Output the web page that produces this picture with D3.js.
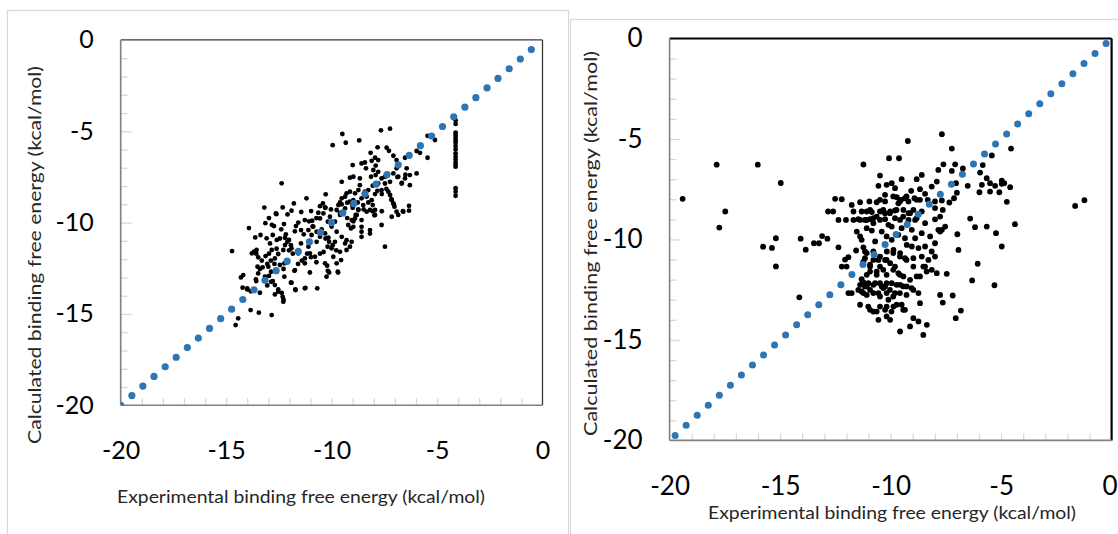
<!DOCTYPE html>
<html>
<head>
<meta charset="utf-8">
<script src="https://cdn.jsdelivr.net/npm/d3@7"></script>
<style>
  body { margin: 0; background: #fff; }
  svg { display: block; }
</style>
</head>
<body>
<svg id="chart" width="1118" height="534"></svg>
<script>
// ---- tick labels and titles ----
const tickValues = [-20, -15, -10, -5, 0];
const tickLabels = ["-20", "-15", "-10", "-5", "0"];
const minorTickValues = [-19, -18, -17, -16, -14, -13, -12, -11, -9, -8, -7, -6, -4, -3, -2, -1];
const xTitle = "Experimental binding free energy (kcal/mol)";
const yTitle = "Calculated binding free energy (kcal/mol)";

// ---- ideal y = x reference points (blue) ----
const leftDiagonal = [-20, -19.47, -18.95, -18.42, -17.89, -17.37, -16.84, -16.32, -15.79, -15.26,
  -14.74, -14.21, -13.68, -13.16, -12.63, -12.11, -11.58, -11.05, -10.53, -10.0,
  -9.47, -8.95, -8.42, -7.89, -7.37, -6.84, -6.32, -5.79, -5.26, -4.74,
  -4.21, -3.68, -3.16, -2.63, -2.11, -1.58, -1.05, -0.53];
const rightDiagonal = [-19.75, -19.25, -18.75, -18.25, -17.75, -17.25, -16.75, -16.25, -15.75, -15.25,
  -14.75, -14.25, -13.75, -13.25, -12.75, -12.25, -11.75, -11.25, -10.75, -10.25,
  -9.75, -9.25, -8.75, -8.25, -7.75, -7.25, -6.75, -6.25, -5.75, -5.25,
  -4.75, -4.25, -3.75, -3.25, -2.75, -2.25, -1.75, -1.25, -0.75, -0.25];

// ---- left panel: [experimental, calculated] ----
const leftPoints = [
  [-12.37,-7.85],[-11.19,-8.67],[-10.28,-8.45],[-13.19,-9.18],[-12.64,-9.49],[-12.97,-9.75],[-12.32,-9.17],[-12.09,-9.55],
  [-11.79,-8.95],[-11.9,-9.35],[-11.44,-9.42],[-10.97,-9.37],[-10.63,-9.46],[-10.41,-8.95],[-10.31,-9.17],
  [-13.92,-10.3],[-13.37,-10.68],[-13.62,-10.81],[-12.73,-10.19],[-12.26,-10.08],[-12.39,-10.37],[-12.17,-10.64],[-12.21,-10.83],
  [-12.02,-10.95],[-11.69,-10.19],[-11.74,-10.48],[-11.45,-10.41],[-11.58,-10.0],[-11.27,-9.86],[-10.92,-9.9],[-10.87,-10.22],
  [-11.1,-10.41],[-11.32,-10.64],[-10.95,-10.68],[-10.71,-10.5],[-10.47,-10.37],[-10.31,-10.59],[-10.15,-10.83],[-10.55,-9.77],
  [-10.18,-9.95],[-10.0,-10.22],[-10.0,-11.41],
  [-14.72,-11.56],[-13.68,-11.59],[-13.56,-11.5],[-13.48,-11.9],[-13.13,-11.83],[-12.92,-11.14],[-12.84,-11.5],[-12.61,-11.43],
  [-12.53,-11.72],[-12.29,-11.5],[-12.21,-11.23],[-12.69,-11.96],[-11.9,-11.41],[-11.58,-11.68],[-11.27,-11.96],[-11.03,-11.68],
  [-10.79,-11.87],[-10.31,-12.23],
  [-13.51,-12.41],[-13.27,-12.45],[-13.0,-12.41],[-12.87,-12.69],[-12.45,-12.32],[-12.24,-12.23],[-11.74,-12.6],[-11.27,-12.23],
  [-13.48,-12.78],[-13.16,-12.96],[-14.19,-12.87],[-14.3,-13.0],[-13.59,-13.11],[-12.87,-13.24],[-12.69,-13.42],[-12.24,-12.96],
  [-11.9,-13.29],[-11.71,-13.69],[-11.27,-13.6],[-10.68,-13.6],[-10.24,-12.96],
  [-14.22,-13.56],[-14.0,-13.6],[-13.4,-13.84],[-12.69,-13.93],[-12.53,-13.78],[-12.29,-14.33],[-12.32,-14.06],[-13.84,-14.79],
  [-13.45,-14.93],[-12.84,-15.06],[-14.43,-15.24],[-14.55,-15.61],
  [-10.71,-11.05],[-11.1,-11.32],[-11.45,-11.14],[-12.6,-10.95],[-13.08,-10.86],[-13.78,-11.68],
  [-10.39,-9.5],[-10.08,-9.68],[-10.19,-11.32],[-9.92,-11.87],[-10.18,-12.64],
  [-9.49,-5.15],[-9.33,-5.63],[-8.69,-5.5],[-7.66,-4.95],[-7.23,-4.86],[-8.15,-6.18],[-7.82,-5.88],[-7.39,-5.9],[-7.28,-6.07],
  [-7.94,-6.45],[-7.79,-6.58],[-7.07,-6.34],[-6.92,-6.58],[-6.52,-6.45],[-5.97,-6.08],[-5.81,-6.18],[-5.45,-6.45],[-5.45,-5.25],
  [-5.1,-5.48],
  [-9.0,-6.85],[-8.58,-6.76],[-8.42,-6.71],[-8.37,-7.03],[-8.02,-7.12],[-8.13,-7.49],[-7.91,-7.4],[-7.79,-7.22],[-7.63,-7.58],
  [-7.47,-7.49],[-7.07,-7.31],[-6.92,-7.03],[-6.84,-7.49],[-6.68,-7.86],[-6.44,-7.03],[-6.29,-7.4],[-6.29,-7.95],[-5.97,-7.31],
  [-6.52,-7.58],[-7.23,-7.77],[-7.47,-7.86],
  [-9.52,-7.77],[-9.13,-7.54],[-8.97,-7.49],[-8.66,-7.58],[-8.66,-7.95],[-8.73,-8.22],[-8.89,-8.4],[-9.13,-8.31],[-9.29,-8.4],
  [-9.36,-8.58],[-9.52,-8.67],[-9.6,-8.9],[-9.52,-9.0],[-9.13,-8.86],[-8.97,-8.77],[-9.02,-9.04],[-8.76,-8.9],[-8.58,-8.67],
  [-8.34,-8.58],[-8.26,-8.9],[-8.1,-8.77],[-8.05,-9.04],[-7.94,-9.31],[-7.94,-9.58],[-8.18,-9.31],[-8.34,-9.4],[-8.5,-9.04],
  [-8.73,-9.31],[-8.86,-9.58],[-8.89,-9.77],[-9.05,-9.86],[-9.21,-10.13],[-9.08,-10.32],[-8.97,-10.23],[-8.81,-9.58],[-8.58,-9.86],
  [-8.58,-10.23],[-8.58,-10.5],[-8.58,-10.78],[-8.18,-10.41],[-8.18,-10.6],[-7.63,-10.13],[-7.47,-11.32],
  [-7.79,-7.86],[-7.63,-8.22],[-7.31,-8.31],[-7.23,-8.49],[-7.15,-8.77],[-7.07,-8.95],[-7.02,-9.13],[-6.92,-9.4],[-7.15,-9.68],
  [-6.84,-9.58],[-6.6,-9.4],[-6.33,-9.08],[-6.33,-9.35],[-7.94,-8.44],[-8.26,-8.22],[-8.42,-8.31],
  [-9.36,-9.22],[-9.68,-9.04],[-9.76,-9.31],[-9.6,-9.58],[-9.84,-9.95],[-9.76,-10.5],[-9.52,-10.78],[-9.29,-10.96],[-9.36,-11.14],
  [-9.05,-11.05],[-9.13,-11.32],[-9.29,-11.5],[-9.6,-11.6],[-9.55,-12.05],[-9.76,-12.23],[-9.71,-12.69],[-9.84,-11.05],[-9.95,-5.76],
  [-8.1,-6.62],[-7.91,-6.88],[-6.88,-7.51],[-6.67,-7.83],[-6.5,-7.38],[-8.05,-7.98],[-7.83,-8.26],[-7.62,-8.44],[-7.4,-8.16],
  [-7.16,-8.72],[-7.05,-9.0],[-6.62,-9.38],[-9.26,-8.91],[-9.0,-9.19],[-8.74,-9.28],[-8.48,-9.28],[-8.05,-9.38],[-7.97,-9.6],
  [-7.62,-9.38],[-10.55,-9.1],[-10.29,-9.19],[-10.03,-9.28],[-9.6,-9.47],[-9.26,-9.75],[-8.97,-9.93],[-10.72,-9.75],[-10.9,-10.21],
  [-11.07,-9.93],[-10.55,-10.77],[-10.29,-10.87],[-10.12,-11.05],[-9.95,-11.24],[-9.78,-11.52],[-10.21,-12.36],[-10.12,-12.73],
  [-9.69,-12.73],[-11.16,-11.7],[-10.98,-11.89],[-10.72,-12.17],[-10.55,-11.7],[-10.38,-11.61],[-11.41,-12.08],[-11.59,-12.26],
  [-11.84,-11.7],[-12.02,-11.52],[-11.76,-12.64],[-11.93,-13.29],[-11.72,-13.66],[-11.24,-13.57],[-11.03,-12.73],[-12.45,-10.87],
  [-12.1,-11.05],[-11.93,-11.24],[-12.79,-10.68],[-12.83,-10.12],[-13.14,-10.03],[-12.62,-9.54],[-13.57,-11.7],[-13.31,-12.08],
  [-12.97,-11.7],[-12.88,-12.08],[-13.05,-12.26],[-13.4,-12.54],[-12.71,-12.26],[-12.1,-12.17],[-12.28,-12.54],[-13.57,-13.2],
  [-12.97,-12.92],[-12.79,-13.2],[-12.53,-13.66],[-12.36,-13.85],[-12.28,-14.22],[-13.05,-13.44],[-13.83,-13.76],[-14.0,-13.66],
  [-4.12,-4.4],[-4.12,-4.6],[-4.12,-5.07],[-4.12,-5.2],[-4.12,-5.35],[-4.12,-5.5],[-4.12,-5.63],[-4.12,-5.81],[-4.12,-5.99],
  [-4.12,-6.21],[-4.12,-6.39],[-4.12,-6.55],[-4.12,-6.72],[-4.12,-6.85],[-4.12,-6.94],[-4.12,-8.12],[-4.12,-8.31],[-4.12,-8.53]
];

// ---- right panel: [experimental, calculated] ----
const rightPoints = [
  [-19.41,-7.98],[-17.87,-6.28],[-16.01,-6.28],[-14.97,-7.19],[-17.48,-8.61],[-17.75,-9.41],[-15.19,-9.94],[-15.77,-10.36],
  [-15.37,-10.42],[-15.19,-11.34],[-14.13,-12.88],[-14.07,-9.96],[-13.84,-10.51],[-13.47,-10.19],[-13.24,-10.19],[-13.1,-9.83],
  [-12.86,-9.96],[-12.83,-8.61],
  [-11.23,-6.27],[-10.48,-6.82],[-10.55,-7.33],[-10.18,-7.28],[-12.51,-7.98],[-12.21,-8.0],[-12.6,-8.61],
  [-11.76,-8.28],[-11.38,-8.15],[-10.96,-8.11],[-10.63,-8.15],[-10.25,-8.11],[-11.68,-8.61],[-11.31,-8.61],[-11.08,-8.61],
  [-10.85,-8.64],[-10.48,-8.61],[-10.33,-8.61],[-12.36,-9.03],[-12.02,-9.03],[-11.68,-9.03],[-11.46,-8.99],[-11.16,-9.03],
  [-10.93,-8.99],[-10.78,-8.94],[-10.48,-9.03],[-10.25,-8.99],[-10.1,-9.27],[-11.08,-9.44],[-10.85,-9.56],[-10.4,-9.61],
  [-11.38,-9.85],[-11.31,-10.02],[-11.56,-10.55],[-11.23,-10.39],[-11.16,-10.6],[-10.7,-10.1],[-12.36,-10.39],[-11.91,-10.88],
  [-12.06,-11.0],[-12.21,-11.35],[-11.99,-11.35],[-11.16,-10.93],[-11.23,-11.1],[-10.55,-11.02],[-10.25,-11.02],[-10.33,-11.51],
  [-10.48,-11.35],[-10.93,-11.26],[-10.93,-11.6],[-10.63,-11.76],[-10.18,-11.76],[-11.31,-11.98],[-11.16,-12.34],[-11.01,-12.18],
  [-10.78,-12.26],[-10.48,-12.18],[-10.25,-12.34],[-11.31,-12.59],[-11.08,-12.76],[-10.78,-12.67],[-10.48,-12.84],[-10.18,-12.67],
  [-11.91,-12.67],[-11.76,-12.67],[-10.33,-12.42],[-11.01,-13.34],[-10.78,-13.59],[-10.48,-13.34],[-10.25,-13.5],[-10.55,-14.0],
  [-10.18,-13.83],[-11.23,-12.14],[-11.46,-12.51],[-11.08,-11.76],[-10.78,-11.02],[-10.18,-9.85],[-11.53,-9.61],
  [-9.22,-5.1],[-10.07,-5.96],[-9.62,-5.96],[-8.59,-6.79],[-7.84,-6.54],[-7.91,-7.12],[-8.14,-7.37],[-9.95,-7.2],
  [-9.5,-7.0],[-8.82,-7.0],[-9.8,-7.45],[-9.07,-7.58],[-8.67,-7.5],[-8.44,-7.73],[-9.72,-7.9],[-9.53,-8.03],[-9.35,-7.95],
  [-9.19,-8.11],[-9.65,-8.2],[-8.92,-7.95],[-8.67,-8.03],[-8.32,-8.03],[-7.99,-8.11],[-10.25,-7.78],[-10.25,-8.69],[-10.02,-8.61],
  [-9.8,-8.56],[-9.42,-8.53],[-9.19,-8.69],[-8.97,-8.53],[-8.59,-8.61],[-7.99,-8.44],[-7.76,-8.86],[-9.8,-8.94],[-9.57,-9.03],
  [-9.19,-9.03],[-8.89,-9.03],[-8.44,-9.19],[-7.99,-9.0],[-7.84,-9.52],[-9.95,-9.36],[-9.5,-9.44],[-9.04,-9.52],
  [-8.59,-9.69],[-9.65,-9.77],[-9.35,-9.94],[-8.89,-9.94],[-8.21,-9.85],[-9.95,-10.02],[-9.27,-10.27],[-9.04,-10.35],
  [-8.74,-10.43],[-7.99,-10.19],[-8.44,-10.35],[-8.14,-10.6],[-10.17,-10.6],[-9.87,-10.52],[-9.57,-10.68],[-9.35,-10.93],
  [-8.97,-10.93],[-8.59,-10.85],[-8.29,-11.02],[-7.99,-10.85],[-8.44,-11.35],[-8.14,-11.51],[-7.91,-11.68],[-10.02,-11.18],
  [-9.8,-11.35],[-9.65,-11.68],[-9.42,-11.84],[-9.12,-12.01],[-8.82,-11.84],[-9.95,-12.18],[-9.57,-12.26],
  [-9.27,-12.34],[-8.97,-12.51],[-8.74,-12.67],[-9.8,-12.67],[-10.1,-13.0],[-9.87,-13.34],[-9.5,-13.25],
  [-9.35,-13.5],[-8.67,-13.17],[-10.02,-14.0],[-9.57,-14.58],[-9.12,-14.33],[-8.97,-13.92],[-8.74,-14.08],
  [-8.36,-14.25],[-8.52,-14.75],
  [-11.38,-12.26],[-11.23,-12.67],[-11.08,-12.34],[-10.93,-12.51],[-10.7,-12.18],[-10.55,-12.67],[-10.4,-12.34],[-10.18,-12.18],
  [-10.03,-12.51],[-9.88,-12.84],[-9.73,-12.26],[-9.58,-12.67],[-9.43,-12.34],[-9.28,-12.76],[-9.05,-12.42],
  [-11.38,-13.25],[-10.93,-13.5],[-10.63,-13.59],[-10.18,-13.34],[-9.96,-13.59],[-9.73,-13.25],[-9.43,-13.5],
  [-11.08,-10.68],[-10.78,-10.6],[-10.48,-10.85],[-10.18,-11.02],[-9.88,-10.68],[-9.58,-10.85],[-9.28,-11.02],[-8.97,-11.35],
  [-8.52,-11.35],[-8.37,-11.6],[-10.93,-11.35],[-10.63,-11.6],[-9.88,-11.51],[-9.58,-11.76],[-8.67,-11.84],
  [-10.93,-8.53],[-10.63,-8.86],[-10.33,-8.53],[-10.03,-8.69],[-9.73,-8.53],[-9.43,-8.86],[-9.12,-8.69],[-8.82,-8.94],
  [-11.38,-9.03],[-11.08,-9.03],[-10.78,-9.19],
  [-10.48,-8.03],[-9.88,-7.86],[-9.58,-8.11],[-9.28,-7.86],[-8.82,-8.03],
  [-7.68,-4.76],[-7.23,-5.48],[-4.55,-5.48],[-5.42,-5.82],[-5.83,-6.3],[-7.61,-6.26],[-7.08,-6.26],[-6.73,-6.47],[-7.23,-6.59],
  [-5.95,-6.67],[-5.65,-6.95],[-5.5,-7.2],[-5.87,-7.28],[-5.27,-7.33],[-4.97,-7.07],[-4.86,-7.2],[-4.97,-7.23],[-4.59,-7.4],
  [-7.04,-7.2],[-6.51,-7.33],[-5.98,-7.65],[-5.5,-7.62],[-5.08,-7.65],[-4.74,-8.13],[-7.0,-7.67],[-7.13,-7.95],[-7.34,-8.16],
  [-7.68,-8.06],[-7.64,-8.53],[-1.65,-8.33],[-1.23,-8.05],[-6.4,-8.96],[-6.18,-9.39],[-5.65,-9.36],[-5.23,-9.69],[-4.37,-9.24],
  [-7.53,-9.36],[-7.68,-9.52],[-7.76,-9.61],[-6.98,-9.74],[-6.93,-10.52],[-4.97,-10.35],[-6.06,-11.21],[-7.46,-11.71],
  [-6.31,-12.04],[-5.3,-12.28],[-7.76,-12.76],[-7.19,-12.79],[-7.64,-13.14],[-6.82,-13.54],[-7.05,-13.92]
];

const svg = d3.select("#chart");
const font = "Lato, 'Open Sans', 'DejaVu Sans', sans-serif";
const labelOf = d => tickLabels[tickValues.indexOf(d)];

// light outlines around the two figure panels
svg.append("rect")
  .attr("x", 7.5).attr("y", 10.5).attr("width", 561).attr("height", 620)
  .attr("fill", "none").attr("stroke", "#d9d9d9").attr("stroke-width", 1.2);
svg.append("rect")
  .attr("x", 570.5).attr("y", 19.5).attr("width", 620).attr("height", 620)
  .attr("fill", "none").attr("stroke", "#d9d9d9").attr("stroke-width", 1.2);

function drawPanel(cfg, id) {
  const x = d3.scaleLinear().domain([-20, 0]).range([cfg.left, cfg.right]);
  const y = d3.scaleLinear().domain([-20, 0]).range([cfg.bottom, cfg.top]);
  const g = svg.append("g");

  // clip region = plot area
  svg.append("defs").append("clipPath").attr("id", id)
    .append("rect")
    .attr("x", cfg.left).attr("y", cfg.top)
    .attr("width", cfg.right - cfg.left).attr("height", cfg.bottom - cfg.top);

  // inner minor ticks
  const minorY = g.append("g").attr("transform", `translate(${cfg.left},0)`)
    .call(d3.axisLeft(y).tickValues(minorTickValues).tickSize(-7).tickFormat(""));
  const minorX = g.append("g").attr("transform", `translate(0,${cfg.bottom})`)
    .call(d3.axisBottom(x).tickValues(minorTickValues).tickSize(-7).tickFormat(""));

  // major ticks with labels
  const majorY = g.append("g").attr("transform", `translate(${cfg.left},0)`)
    .call(d3.axisLeft(y).tickValues(tickValues).tickSize(-11).tickPadding(cfg.yPad).tickFormat(labelOf));
  const majorX = g.append("g").attr("transform", `translate(0,${cfg.bottom})`)
    .call(d3.axisBottom(x).tickValues(tickValues).tickSize(-7).tickPadding(cfg.xPad).tickFormat(labelOf));

  [minorY, minorX, majorY, majorX].forEach(a => {
    a.select(".domain").remove();
    a.selectAll(".tick line").attr("stroke", "#d9d9d9").attr("stroke-width", 1.3);
    a.selectAll(".tick text")
      .attr("fill", "#000")
      .style("font-family", font)
      .style("font-size", cfg.tickFont + "px");
  });
  // corner ticks sit on the frame
  majorY.selectAll(".tick").filter(d => d === -20 || d === 0).select("line").remove();
  majorX.selectAll(".tick").filter(d => d === -20 || d === 0).select("line").remove();
  // keep the last x label inside the page
  majorX.selectAll(".tick").filter(d => d === 0).select("text").attr("dx", cfg.lastLabelShift);

  // frame
  g.append("line").attr("x1", cfg.left).attr("x2", cfg.right).attr("y1", cfg.top).attr("y2", cfg.top)
    .attr("stroke", cfg.topColor).attr("stroke-width", cfg.topWidth);
  g.append("line").attr("x1", cfg.right).attr("x2", cfg.right).attr("y1", cfg.top).attr("y2", cfg.bottom)
    .attr("stroke", cfg.topColor).attr("stroke-width", cfg.topWidth);
  g.append("line").attr("x1", cfg.left).attr("x2", cfg.left).attr("y1", cfg.top).attr("y2", cfg.bottom)
    .attr("stroke", cfg.axisColor).attr("stroke-width", 1.6);
  g.append("line").attr("x1", cfg.left).attr("x2", cfg.right).attr("y1", cfg.bottom).attr("y2", cfg.bottom)
    .attr("stroke", cfg.axisColor).attr("stroke-width", 1.6);

  const plot = g.append("g").attr("clip-path", `url(#${id})`);

  // black data points
  plot.selectAll("circle.pt").data(cfg.points).join("circle")
    .attr("class", "pt")
    .attr("cx", d => x(d[0])).attr("cy", d => y(d[1]))
    .attr("r", cfg.dotR).attr("fill", "#000");

  // blue y = x points on top
  plot.selectAll("circle.diag").data(cfg.diagonal).join("circle")
    .attr("class", "diag")
    .attr("cx", d => x(d)).attr("cy", d => y(d))
    .attr("r", cfg.diagR).attr("fill", "#2e75b6");

  // axis titles
  g.append("text")
    .attr("x", cfg.xTitleX).attr("y", cfg.xTitleY)
    .attr("text-anchor", "middle")
    .attr("textLength", cfg.xTitleLen).attr("lengthAdjust", "spacingAndGlyphs")
    .style("font-family", font).style("font-size", cfg.titleFont + "px")
    .attr("fill", "#262626")
    .text(xTitle);
  g.append("text")
    .attr("transform", `translate(${cfg.yTitleX},${cfg.yTitleY}) rotate(-90)`)
    .attr("text-anchor", "middle")
    .attr("textLength", cfg.yTitleLen).attr("lengthAdjust", "spacingAndGlyphs")
    .style("font-family", font).style("font-size", cfg.titleFont + "px")
    .attr("fill", "#262626")
    .text(yTitle);
}

drawPanel({
  left: 120.7, right: 542.5, top: 39.9, bottom: 405.3,
  points: leftPoints, diagonal: leftDiagonal,
  dotR: 2.4, diagR: 3.6,
  tickFont: 25, yPad: 27, xPad: 36, lastLabelShift: 0,
  topColor: "#3a3a3a", topWidth: 1.3, axisColor: "#808080",
  titleFont: 18,
  xTitleX: 301, xTitleY: 503, xTitleLen: 368,
  yTitleX: 41, yTitleY: 255, yTitleLen: 378
}, "clipLeft");

drawPanel({
  left: 669.6, right: 1111.6, top: 38.5, bottom: 440.4,
  points: rightPoints, diagonal: rightDiagonal,
  dotR: 2.9, diagR: 3.5,
  tickFont: 26, yPad: 27, xPad: 36, lastLabelShift: -2,
  topColor: "#000", topWidth: 2.2, axisColor: "#808080",
  titleFont: 18,
  xTitleX: 892, xTitleY: 519, xTitleLen: 368,
  yTitleX: 597, yTitleY: 243.5, yTitleLen: 385
}, "clipRight");
</script>
</body>
</html>
